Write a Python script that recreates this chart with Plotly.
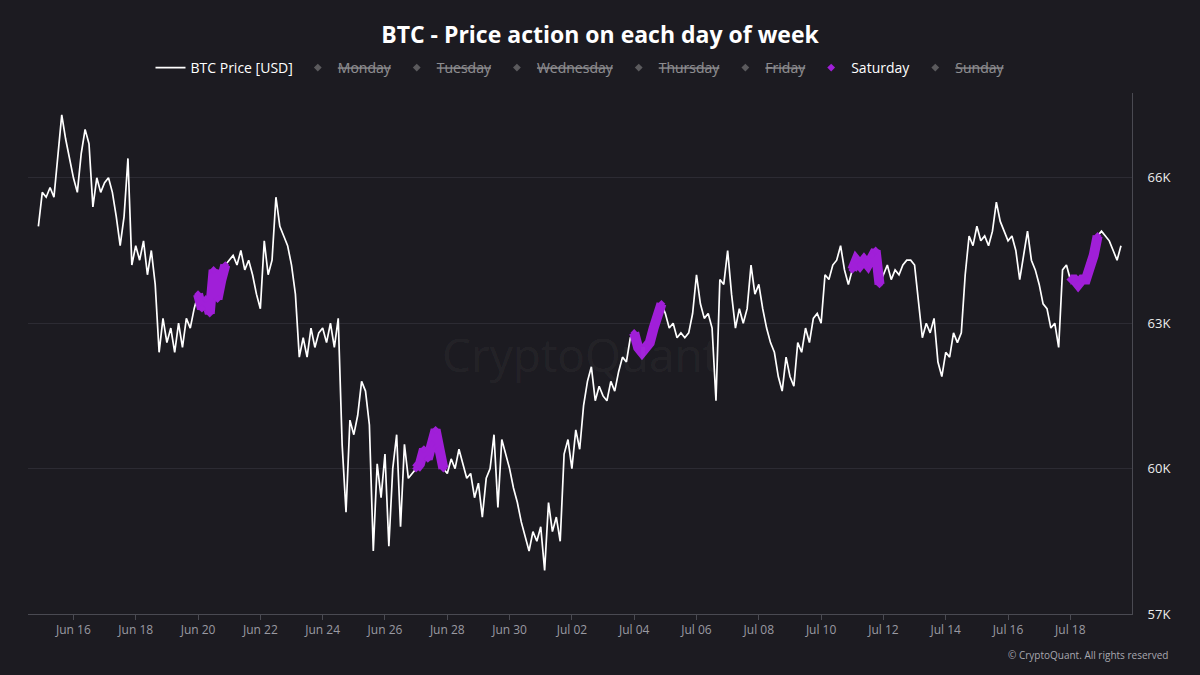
import pandas as pd
import plotly.graph_objects as go

# BTC price in thousands USD, one value every 3 hours from 2020-06-14 21:00
start_time = "2020-06-14 21:00"
btc_price_k = [
    65.0,
    65.7, 65.6, 65.8, 65.6, 66.5, 67.3, 66.8, 66.4,  # Jun 15
    66.0, 65.7, 66.5, 67.0, 66.7, 65.4, 66.0, 65.7,  # Jun 16
    65.9, 66.0, 65.7, 65.2, 64.6, 65.2, 66.4, 64.2,  # Jun 17
    64.6, 64.3, 64.7, 64.0, 64.5, 63.8, 62.4, 63.1,  # Jun 18
    62.6, 62.9, 62.4, 63.0, 62.5, 63.1, 62.9, 63.3,  # Jun 19
    63.6, 63.3, 63.5, 63.2, 64.1, 63.5, 63.9, 64.2,  # Jun 20
    64.3, 64.4, 64.2, 64.5, 64.1, 64.3, 64.0, 63.6,  # Jun 21
    63.3, 64.7, 64.0, 64.3, 65.6, 65.0, 64.8, 64.6,  # Jun 22
    64.2, 63.6, 62.3, 62.7, 62.3, 62.9, 62.5, 62.8,  # Jun 23
    62.9, 62.6, 63.0, 62.5, 63.1, 60.5, 59.1, 61.0,  # Jun 24
    60.7, 61.1, 61.8, 61.6, 60.9, 58.3, 60.1, 59.4,  # Jun 25
    60.3, 58.4, 60.0, 60.7, 58.8, 60.5, 59.8, 59.9,  # Jun 26
    60.0, 60.1, 60.4, 60.2, 60.5, 60.8, 60.4, 60.0,  # Jun 27
    59.9, 60.2, 60.0, 60.4, 60.1, 59.8, 59.9, 59.4,  # Jun 28
    59.7, 59.0, 59.8, 60.0, 60.7, 59.2, 60.6, 60.3,  # Jun 29
    60.0, 59.6, 59.3, 58.9, 58.6, 58.3, 58.7, 58.5,  # Jun 30
    58.8, 57.9, 59.3, 58.7, 59.0, 58.5, 60.3, 60.6,  # Jul 01
    60.0, 60.8, 60.4, 61.3, 61.8, 62.1, 61.4, 61.7,  # Jul 02
    61.5, 61.4, 61.8, 61.6, 62.0, 62.3, 62.2, 62.7,  # Jul 03
    62.8, 62.5, 62.4, 62.5, 62.6, 62.9, 63.1, 63.4,  # Jul 04
    63.2, 62.9, 63.0, 62.7, 62.8, 62.7, 62.8, 63.2,  # Jul 05
    64.0, 63.4, 63.1, 63.2, 62.9, 61.4, 63.9, 63.8,  # Jul 06
    64.5, 63.6, 62.9, 63.3, 63.0, 63.3, 64.2, 63.6,  # Jul 07
    63.8, 63.3, 62.9, 62.6, 62.4, 61.9, 61.6, 62.3,  # Jul 08
    61.9, 61.7, 62.6, 62.4, 62.9, 62.6, 63.1, 63.2,  # Jul 09
    63.0, 64.0, 63.9, 64.2, 64.3, 64.6, 64.1, 63.8,  # Jul 10
    64.1, 64.3, 64.2, 64.3, 64.2, 64.4, 64.5, 63.8,  # Jul 11
    64.0, 64.2, 63.9, 64.1, 64.0, 64.2, 64.3, 64.3,  # Jul 12
    64.2, 63.4, 62.7, 63.0, 62.8, 63.1, 62.2, 61.9,  # Jul 13
    62.4, 62.3, 62.8, 62.6, 62.8, 64.0, 64.8, 64.6,  # Jul 14
    65.0, 64.7, 64.8, 64.6, 64.9, 65.5, 65.1, 64.9,  # Jul 15
    64.7, 64.8, 64.5, 63.9, 64.4, 64.9, 64.3, 64.1,  # Jul 16
    63.8, 63.4, 63.3, 62.9, 63.0, 62.5, 64.1, 64.2,  # Jul 17
    63.9, 63.9, 63.8, 63.9, 63.9, 64.1, 64.4, 64.8,  # Jul 18
    64.9, 64.8, 64.7, 64.5, 64.3, 64.6,  # Jul 19
]

day_names = ["Monday", "Tuesday", "Wednesday", "Thursday", "Friday", "Saturday", "Sunday"]
shown_days = ["Saturday"]

y_ticks = [57000, 60000, 63000, 66000]
y_tick_labels = ["57K", "60K", "63K", "66K"]

times = pd.date_range(start_time, periods=len(btc_price_k), freq="3h")
price = [p * 1000 for p in btc_price_k]

bg = "#1c1b21"
purple = "#a01fd8"
font_family = "Open Sans"

fig = go.Figure()

fig.add_trace(go.Scatter(
    x=times, y=price, mode="lines", name="BTC Price [USD]",
    line=dict(color="white", width=1.7),
))

for k, day in enumerate(day_names):
    day_y = [p if t.weekday() == k else None for t, p in zip(times, price)]
    if day in shown_days:
        fig.add_trace(go.Scatter(
            x=times, y=day_y, mode="lines", legendgroup=day, showlegend=False,
            line=dict(color=purple, width=10), connectgaps=False,
        ))
        fig.add_trace(go.Scatter(
            x=times, y=day_y, mode="markers", name=day, legendgroup=day,
            marker=dict(symbol="diamond", size=6, color=purple),
        ))
    else:
        fig.add_trace(go.Scatter(
            x=times, y=day_y, mode="markers", name="<s>" + day + "</s>",
            visible="legendonly",
            marker=dict(symbol="diamond", size=6, color="#9a9a9a"),
        ))

fig.update_layout(
    width=1200, height=675,
    paper_bgcolor=bg, plot_bgcolor=bg,
    font=dict(family=font_family, color="white"),
    margin=dict(l=28, r=68, t=93, b=61),
    title=dict(
        text="<b>BTC - Price action on each day of week</b>",
        x=0.5, xanchor="center", y=0.948, yanchor="middle",
        font=dict(size=23, color="white", family=font_family),
    ),
    legend=dict(
        orientation="h", x=0.5, xanchor="center", y=1.048, yanchor="middle",
        font=dict(size=14, color="white"), bgcolor="rgba(0,0,0,0)",
        itemwidth=30,
    ),
    showlegend=True,
    xaxis=dict(
        type="date",
        range=["2020-06-14 13:00", "2020-07-19 23:30"],
        tickformat="%b %d", tick0="2020-06-16", dtick=2 * 86400000,
        showgrid=False, zeroline=False,
        showline=True, linecolor="#4a4a52", linewidth=1,
        ticks="outside", ticklen=5, tickcolor="#4a4a52",
        tickfont=dict(size=12, color="#9a9aa2"),
    ),
    yaxis=dict(
        side="right", range=[57000, 67750],
        tickvals=y_ticks, ticktext=y_tick_labels,
        showgrid=True, gridcolor="#2c2b33", zeroline=False,
        showline=True, linecolor="#4a4a52", linewidth=1,
        ticks="", ticklabelstandoff=12,
        tickfont=dict(size=13, color="#ececec"),
    ),
    annotations=[
        dict(
            text="CryptoQuant", xref="paper", yref="paper", x=0.5, y=0.5,
            showarrow=False, font=dict(size=46, color="rgba(255,255,255,0.05)", family=font_family),
        ),
        dict(
            text="© CryptoQuant. All rights reserved", xref="paper", yref="paper",
            x=1.034, y=-0.079, xanchor="right", yanchor="middle", showarrow=False,
            font=dict(size=10, color="#a8a8b0", family=font_family),
        ),
    ],
)

fig.write_html(
    "out.html",
    config={"displayModeBar": False},
    post_script="document.body.style.margin = '0';",
)
